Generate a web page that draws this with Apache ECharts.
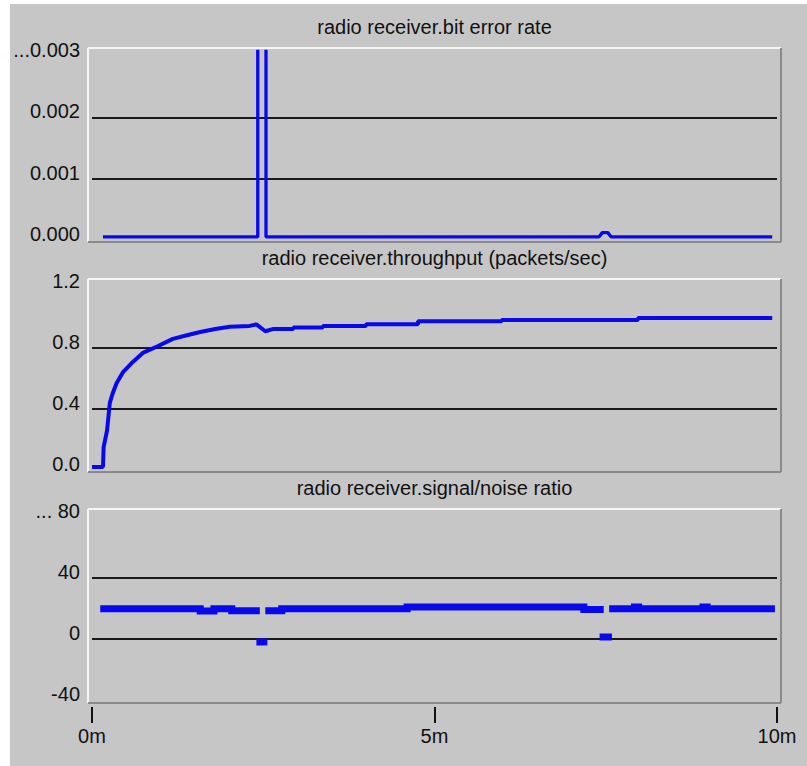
<!DOCTYPE html>
<html>
<head>
<meta charset="utf-8">
<script src="https://cdn.jsdelivr.net/npm/echarts@6/dist/echarts.min.js"></script>
<style>
html,body{margin:0;padding:0;background:#c6c6c6;}
#chart{width:807px;height:766px;}
</style>
</head>
<body>
<div id="chart"></div>
<script>
// ---- Data (time in minutes) ----
const titles = [
  'radio receiver.bit error rate',
  'radio receiver.throughput (packets/sec)',
  'radio receiver.signal/noise ratio'
];
const xTickLabels = ['0m', '5m', '10m'];

// bit error rate (null = break; the spike rises past the top of the plot)
const berT = [0.16, 2.42, 2.42, 2.48, 2.54, 2.54, 7.40, 7.45, 7.53, 7.58, 9.93];
const berV = [0.00005, 0.00005, 0.0031, null, 0.0031, 0.00005, 0.00005, 0.00012, 0.00012, 0.00005, 0.00005];

// throughput (packets/sec)
const thrT = [0, 0.16, 0.17, 0.22, 0.26, 0.30, 0.36, 0.45, 0.60, 0.75, 0.95, 1.18, 1.40, 1.58, 1.80, 2.01, 2.30, 2.40, 2.53, 2.65, 2.94, 2.94, 3.37, 3.37, 4.00, 4.00, 4.76, 4.76, 5.98, 5.98, 7.97, 7.97, 9.93];
const thrV = [0.02, 0.02, 0.15, 0.26, 0.44, 0.50, 0.57, 0.64, 0.71, 0.77, 0.81, 0.86, 0.885, 0.905, 0.925, 0.94, 0.945, 0.955, 0.91, 0.925, 0.925, 0.935, 0.935, 0.945, 0.945, 0.955, 0.955, 0.975, 0.975, 0.984, 0.984, 0.997, 0.997];

// signal/noise ratio (null = break)
const snrT = [0.12, 1.58, 1.58, 1.78, 1.78, 2.04, 2.04, 2.45, 2.49, 2.40, 2.56, 2.50, 2.53, 2.77, 2.77, 4.60, 4.60, 7.18, 7.18, 7.47, 7.50, 7.41, 7.59, 7.51, 7.55, 7.92, 7.92, 7.98, 7.98, 8.92, 8.92, 8.98, 8.98, 9.97];
const snrV = [19.8, 19.8, 18.3, 18.3, 19.8, 19.8, 18.5, 18.5, null, -2, -2, null, 18.5, 18.5, 19.8, 19.8, 21, 21, 19.3, 19.3, null, 1.3, 1.3, null, 19.8, 19.8, 21, 21, 19.8, 19.8, 21, 21, 19.8, 19.8];

// ---- Layout / style ----
const FONT = "'Liberation Sans', Arial, sans-serif";
const BLUE = '#0808ee';
const TXT = '#111111';
const H = 766;
// tick-range extents of each panel (top / bottom px) and its frame
const panels = [
  {top: 56, bot: 240, frameTop: 48, frameBot: 242, titleY: 27},
  {top: 287, bot: 470, frameTop: 279, frameBot: 472, titleY: 258},
  {top: 517, bot: 700, frameTop: 509, frameBot: 703, titleY: 488}
];
const GL = 92, GR = 777, FL = 88, FR = 781;

function zip(t, v) {
  return t.map((x, i) => [x, v[i] === null ? '-' : v[i]]);
}

const yCfg = [
  {min: 0, max: 0.003, interval: 0.001, fmt: (v) => (Math.abs(v - 0.003) < 1e-9 ? '...' : '') + v.toFixed(3)},
  {min: 0, max: 1.2, interval: 0.4, fmt: (v) => v.toFixed(1)},
  {min: -40, max: 80, interval: 40, fmt: (v) => (v === 80 ? '... ' : '') + String(v)}
];

const grid = panels.map(p => ({left: GL, right: 807 - GR, top: p.top, bottom: H - p.bot, containLabel: false}));

const xAxis = panels.map((p, i) => ({
  type: 'value', gridIndex: i, min: 0, max: 10, interval: 5,
  show: i === 2,
  position: 'bottom',
  offset: 7,
  axisLine: {show: false, onZero: false},
  axisTick: {show: true, length: 16, lineStyle: {color: TXT, width: 2}},
  axisLabel: {show: true, margin: 19, fontSize: 20, fontFamily: FONT, color: TXT,
    formatter: (v) => xTickLabels[Math.round(v / 5)]},
  splitLine: {show: false}
}));

const yAxis = yCfg.map((c, i) => ({
  type: 'value', gridIndex: i, min: c.min, max: c.max, interval: c.interval,
  axisLine: {show: false},
  axisTick: {show: false},
  axisLabel: {margin: 12, fontSize: 20, fontFamily: FONT, color: TXT, formatter: c.fmt,
    verticalAlign: 'bottom', lineHeight: 12},
  splitLine: {show: true, showMinLine: false, showMaxLine: false,
    lineStyle: {color: '#1a1a1a', width: 2}}
}));

const series = [
  {type: 'line', xAxisIndex: 0, yAxisIndex: 0, data: zip(berT, berV), clip: false,
   symbol: 'none', connectNulls: false, lineStyle: {color: BLUE, width: 3.3}, z: 5},
  {type: 'line', xAxisIndex: 1, yAxisIndex: 1, data: zip(thrT, thrV),
   symbol: 'none', lineStyle: {color: BLUE, width: 4}, z: 5},
  {type: 'line', xAxisIndex: 2, yAxisIndex: 2, data: zip(snrT, snrV),
   symbol: 'none', connectNulls: false, lineStyle: {color: BLUE, width: 7, cap: 'butt', join: 'miter'}, z: 5}
];

// decorative frames (3D bevel) and titles
const graphic = [
  {type: 'rect', shape: {x: 0, y: 0, width: 10, height: H}, style: {fill: '#ffffff'}, z: 0},
  {type: 'rect', shape: {x: 0, y: 0, width: 807, height: 4}, style: {fill: '#ffffff'}, z: 0}
];
panels.forEach((p, i) => {
  graphic.push({type: 'line', shape: {x1: FL, y1: p.frameTop, x2: FR, y2: p.frameTop}, style: {stroke: '#f6f6f6', lineWidth: 2}, z: 1});
  graphic.push({type: 'line', shape: {x1: FL, y1: p.frameTop, x2: FL, y2: p.frameBot}, style: {stroke: '#f6f6f6', lineWidth: 2}, z: 1});
  graphic.push({type: 'line', shape: {x1: FL, y1: p.frameBot, x2: FR, y2: p.frameBot}, style: {stroke: '#8a8a8a', lineWidth: 2}, z: 1});
  graphic.push({type: 'line', shape: {x1: FR, y1: p.frameTop, x2: FR, y2: p.frameBot}, style: {stroke: '#8a8a8a', lineWidth: 2}, z: 1});
  graphic.push({type: 'text', x: (GL + GR) / 2, y: p.titleY,
    style: {text: titles[i], fill: TXT, font: '20px ' + FONT, textAlign: 'center', textVerticalAlign: 'middle'}, z: 2});
});

const chart = echarts.init(document.getElementById('chart'), null, {renderer: 'svg'});
chart.setOption({
  backgroundColor: '#c6c6c6',
  animation: false,
  grid, xAxis, yAxis, series, graphic
});
</script>
</body>
</html>
